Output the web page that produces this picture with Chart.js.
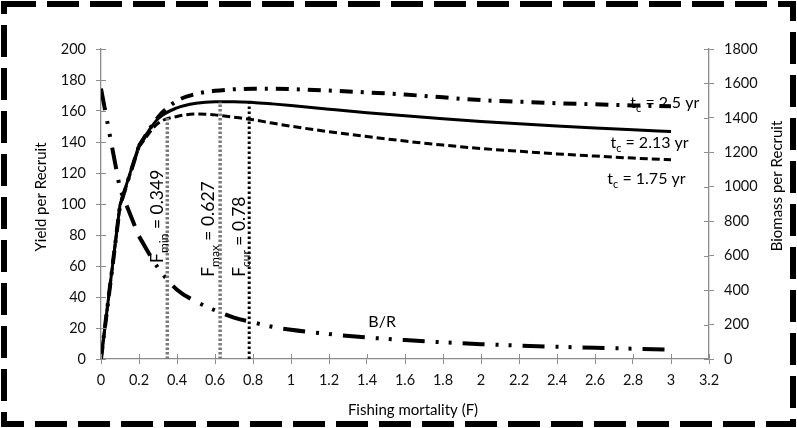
<!DOCTYPE html>
<html>
<head>
<meta charset="utf-8">
<script src="https://cdn.jsdelivr.net/npm/chart.js@4.4.1/dist/chart.umd.min.js"></script>
<style>
  body { margin: 0; background: #fff; }
  #wrap { width: 797px; height: 428px; position: relative; }
</style>
</head>
<body>
<div id="wrap"><canvas id="yprChart"></canvas></div>
<script>
// Fishing mortality (F) and per-recruit curves
const fishingF = [0, 0.1, 0.2, 0.3, 0.4, 0.5, 0.6, 0.7, 0.8, 0.9, 1.0, 1.2, 1.4, 1.6, 1.8, 2.0, 2.2, 2.4, 2.6, 2.8, 3.0];
const yprTc175 = [0, 99, 137, 152, 156.5, 158, 157.5, 156, 154.4, 152.2, 150.2, 146.6, 143.5, 140.6, 138, 135.8, 134, 132.3, 130.9, 129.6, 128.5];
const yprTc213 = [0, 99.5, 138, 155, 162, 165, 166, 166, 165.5, 164.6, 163.6, 161.2, 158.9, 156.9, 155, 153.3, 151.8, 150.4, 149.1, 147.9, 146.8];
const yprTc250 = [0, 99, 137.5, 156, 166.5, 171, 173, 174, 174.3, 174.3, 174.1, 173.2, 172, 170.6, 168.8, 167, 166, 165, 164.3, 163.6, 163];
const biomassPerRecruit = [1570, 987, 712, 530, 402, 334, 283, 240, 213, 187, 170, 145, 125, 110, 97, 86, 78, 71, 65, 60, 55];

// reference points: F value and the YPR height where the dotted line stops
const refF = [0.349, 0.627, 0.78];
const refTop = [156, 166, 165];

const xTickMax = 3.2, xTickStep = 0.2;
const yprMax = 200, yprStep = 20;
const bprMax = 1800, bprStep = 200;

const FONT = 'Lato, "Open Sans", sans-serif';

function pts(ys) {
    return fishingF.map((f, i) => ({ x: f, y: ys[i] }));
}
function refLine(i) {
    return [{ x: refF[i], y: 0 }, { x: refF[i], y: refTop[i] }];
}
// first two steps are straight, the rest is smoothed
function curve(ys, axis, style) {
    const all = pts(ys);
    const base = Object.assign({ yAxisID: axis, borderColor: '#000', pointRadius: 0 }, style);
    return [
        Object.assign({ data: all.slice(0, 3), tension: 0 }, base),
        Object.assign({ data: all.slice(2), cubicInterpolationMode: 'monotone' }, base)
    ];
}

// draws a run of text parts (used for subscripts)
function drawParts(ctx, parts) {
    let cx = 0;
    parts.forEach(p => {
        ctx.font = p.size + 'px ' + FONT;
        ctx.fillText(p.t, cx, p.dy || 0);
        cx += ctx.measureText(p.t).width;
    });
}

const extras = {
    id: 'extras',
    afterDraw(chart) {
        const ctx = chart.ctx;
        const { x, y, y1 } = chart.scales;
        ctx.save();

        // inner half of the crossing tick marks
        ctx.strokeStyle = '#8c8c8c';
        ctx.lineWidth = 1;
        ctx.beginPath();
        x.ticks.forEach(t => {
            const px = Math.round(x.getPixelForValue(t.value)) + 0.5;
            ctx.moveTo(px, x.top); ctx.lineTo(px, x.top - 5);
        });
        y.ticks.forEach(t => {
            const py = Math.round(y.getPixelForValue(t.value)) + 0.5;
            ctx.moveTo(y.right, py); ctx.lineTo(y.right + 5, py);
        });
        y1.ticks.forEach(t => {
            const py = Math.round(y1.getPixelForValue(t.value)) + 0.5;
            ctx.moveTo(y1.left, py); ctx.lineTo(y1.left - 5, py);
        });
        ctx.stroke();

        ctx.fillStyle = '#000';
        ctx.textBaseline = 'alphabetic';
        ctx.textAlign = 'left';

        // curve labels
        const tcLabels = [
            { f: 2.786, v: 162, yr: '2.5' },
            { f: 2.681, v: 136.3, yr: '2.13' },
            { f: 2.665, v: 113, yr: '1.75' }
        ];
        tcLabels.forEach(l => {
            ctx.save();
            ctx.translate(x.getPixelForValue(l.f), y.getPixelForValue(l.v));
            drawParts(ctx, [
                { t: 't', size: 16 },
                { t: 'c', size: 11, dy: 4 },
                { t: ' = ' + l.yr + ' yr', size: 16 }
            ]);
            ctx.restore();
        });
        ctx.font = '16px ' + FONT;
        ctx.fillText('B/R', x.getPixelForValue(1.407), y.getPixelForValue(20.8));

        // rotated reference labels
        const fLabels = [
            { f: 0.328, v: 62, sub: 'min', val: '0.349' },
            { f: 0.596, v: 53, sub: 'max', val: '0.627' },
            { f: 0.759, v: 53, sub: 'cur', val: '0.78' }
        ];
        fLabels.forEach(l => {
            ctx.save();
            ctx.translate(x.getPixelForValue(l.f), y.getPixelForValue(l.v));
            ctx.rotate(-Math.PI / 2);
            drawParts(ctx, [
                { t: 'F', size: 17.5 },
                { t: l.sub, size: 12, dy: 5 },
                { t: ' = ' + l.val, size: 17.5 }
            ]);
            ctx.restore();
        });

        // axis titles
        ctx.font = '15px ' + FONT;
        ctx.textAlign = 'center';
        ctx.textBaseline = 'middle';
        ctx.fillText('Fishing mortality (F)', 413, 410);
        [[41.5, 197, 'Yield per Recruit'], [777, 186, 'Biomass per Recruit']].forEach(a => {
            ctx.save();
            ctx.translate(a[0], a[1]);
            ctx.rotate(-Math.PI / 2);
            ctx.fillText(a[2], 0, 0);
            ctx.restore();
        });

        // dashed frame round the picture
        ctx.setLineDash([32, 11]);
        ctx.lineWidth = 6;
        ctx.strokeStyle = '#000';
        ctx.strokeRect(4, 4, 789, 420);
        ctx.restore();
    }
};

const tickFont = { family: FONT, size: 14.5 };
const gridOpts = { display: true, drawOnChartArea: false, drawTicks: true, tickLength: 5, color: '#8c8c8c' };
const borderOpts = { display: true, color: '#8c8c8c', width: 1.3 };

new Chart(document.getElementById('yprChart'), {
    type: 'line',
    data: {
        datasets: [
            { label: 'Fmin', data: refLine(0), yAxisID: 'y', borderColor: '#7a7a7a', borderWidth: 3.5, borderDash: [2.5, 2], pointRadius: 0 },
            { label: 'Fmax', data: refLine(1), yAxisID: 'y', borderColor: '#7a7a7a', borderWidth: 3.5, borderDash: [2.5, 2], pointRadius: 0 },
            { label: 'Fcur', data: refLine(2), yAxisID: 'y', borderColor: '#000', borderWidth: 3, borderDash: [2.5, 2.5], pointRadius: 0 },
            ...curve(yprTc175, 'y', { label: 'tc = 1.75 yr', borderWidth: 3, borderDash: [8, 4] }),
            ...curve(yprTc213, 'y', { label: 'tc = 2.13 yr', borderWidth: 3 }),
            ...curve(yprTc250, 'y', { label: 'tc = 2.5 yr', borderWidth: 4, borderDash: [13, 8, 3, 8] }),
            ...curve(biomassPerRecruit, 'y1', { label: 'B/R', borderWidth: 4, borderDash: [22, 11, 3, 10, 3, 11] })
        ]
    },
    options: {
        responsive: true,
        maintainAspectRatio: false,
        animation: false,
        layout: { padding: { top: 49, left: 0, right: 0, bottom: 0 } },
        plugins: { legend: { display: false }, tooltip: { enabled: false } },
        scales: {
            x: {
                type: 'linear', min: 0, max: xTickMax,
                ticks: { stepSize: xTickStep, font: tickFont, color: '#111', padding: 8, maxRotation: 0,
                    callback: v => String(Math.round(v * 10) / 10) },
                grid: gridOpts, border: borderOpts,
                afterFit: s => { s.height = 69; }
            },
            y: {
                position: 'left', min: 0, max: yprMax,
                ticks: { stepSize: yprStep, font: tickFont, color: '#111', padding: 10, callback: v => String(v) },
                grid: gridOpts, border: borderOpts,
                afterFit: s => { s.width = 101; }
            },
            y1: {
                position: 'right', min: 0, max: bprMax,
                ticks: { stepSize: bprStep, font: tickFont, color: '#111', padding: 10, callback: v => String(v) },
                grid: gridOpts, border: borderOpts,
                afterFit: s => { s.width = 88; }
            }
        }
    },
    plugins: [extras]
});
</script>
</body>
</html>
